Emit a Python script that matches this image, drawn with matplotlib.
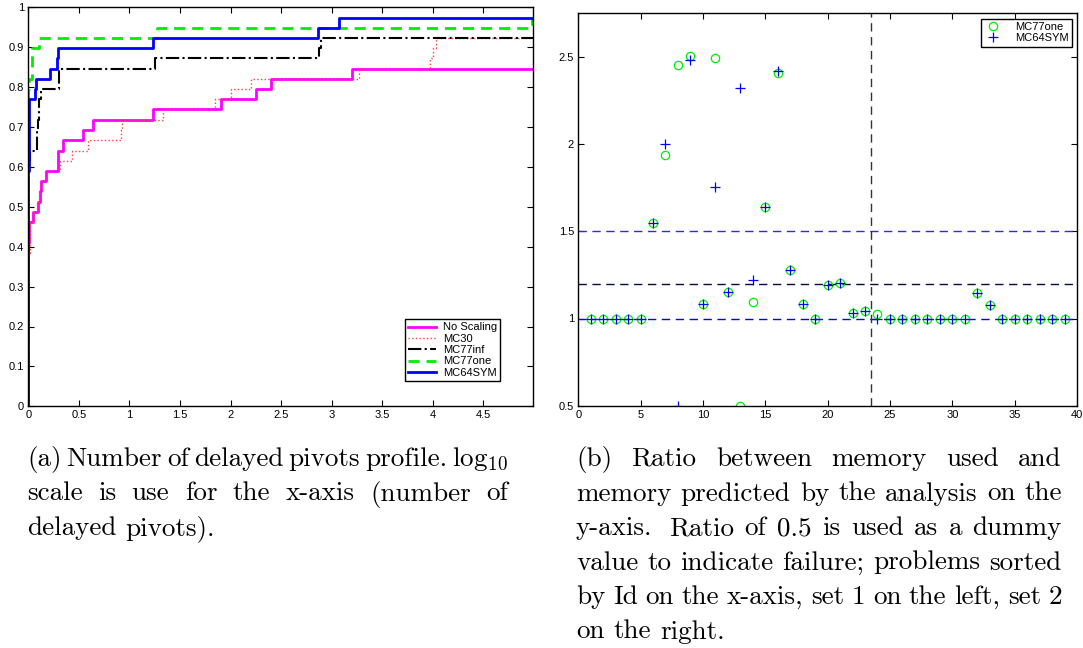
import matplotlib
matplotlib.use("Agg")
import matplotlib.pyplot as plt

# Performance profile: fraction of problems vs log10 of delayed pivots ratio
noscal_x = [0, 0, 0.01, 0.05, 0.10, 0.115, 0.13, 0.175, 0.29, 0.297, 0.346, 0.537, 0.636,
            1.235, 1.91, 2.25, 2.40, 3.205, 4.99]
noscal_y = [0, 0.41, 0.462, 0.487, 0.513, 0.539, 0.564, 0.590, 0.615, 0.641, 0.667, 0.692, 0.718,
            0.744, 0.769, 0.795, 0.821, 0.846, 0.846]
mc30_x = [0, 0, 0.012, 0.055, 0.09, 0.11, 0.135, 0.17, 0.313, 0.429, 0.593, 0.92, 0.925,
          1.33, 1.845, 2.0, 2.2, 3.27, 3.97, 4.0, 4.035, 4.99]
mc30_y = [0, 0.385, 0.462, 0.487, 0.513, 0.539, 0.564, 0.590, 0.615, 0.641, 0.667, 0.692, 0.718,
          0.744, 0.769, 0.795, 0.821, 0.846, 0.872, 0.897, 0.923, 0.923]
mc77inf_x = [0, 0, 0.015, 0.083, 0.1, 0.11, 0.122, 0.306, 1.25, 2.87, 2.89, 4.99]
mc77inf_y = [0, 0.615, 0.641, 0.692, 0.718, 0.769, 0.795, 0.846, 0.872, 0.897, 0.923, 0.923]
mc77one_x = [0, 0, 0.01, 0.035, 0.105, 1.27, 4.98, 4.99]
mc77one_y = [0, 0.795, 0.821, 0.897, 0.923, 0.949, 0.974, 0.974]
mc64sym_x = [0, 0, 0.003, 0.006, 0.01, 0.063, 0.076, 0.214, 0.28, 0.297, 1.235, 2.866, 3.073, 4.99]
mc64sym_y = [0, 0.59, 0.641, 0.718, 0.769, 0.795, 0.821, 0.846, 0.872, 0.897, 0.923, 0.949, 0.974, 0.974]

# Memory used / memory predicted, problems sorted by Id (0.5 = failure)
problem_id = list(range(1, 40))
ratio_mc77one = [1.0, 1.0, 1.0, 1.0, 1.0, 1.545, 1.94, 2.452, 2.506, 1.085,
                 2.493, 1.153, 0.5, 1.094, 1.64, 2.408, 1.279, 1.083, 1.0, 1.19,
                 1.203, 1.031, 1.044, 1.027, 1.0, 1.0, 1.0, 1.0, 1.0, 1.0,
                 1.0, 1.144, 1.079, 1.0, 1.0, 1.0, 1.0, 1.0, 1.0]
ratio_mc64sym = [1.0, 1.0, 1.0, 1.0, 1.0, 1.545, 2.0, 0.5, 2.481, 1.085,
                 1.755, 1.153, 2.319, 1.22, 1.64, 2.418, 1.279, 1.083, 1.0, 1.19,
                 1.203, 1.031, 1.044, 1.0, 1.0, 1.0, 1.0, 1.0, 1.0, 1.0,
                 1.0, 1.144, 1.079, 1.0, 1.0, 1.0, 1.0, 1.0, 1.0]
set_split = 23.5

caption_a = ["(a) Number of delayed pivots profile. log$_{10}$",
             "scale is use for the x-axis (number of",
             "delayed pivots)."]
caption_b = ["(b) Ratio between memory used and",
             "memory predicted by the analysis on the",
             "y-axis.  Ratio of 0.5 is used as a dummy",
             "value to indicate failure; problems sorted",
             "by Id on the x-axis, set 1 on the left, set 2",
             "on the right."]

W, H = 1083, 648
plt.rcParams["mathtext.fontset"] = "cm"
plt.rcParams["font.family"] = "Liberation Sans"

fig = plt.figure(figsize=(W / 100, H / 100), dpi=100)


def add_axes_px(left, top, right, bottom):
    return fig.add_axes([left / W, 1 - bottom / H, (right - left) / W, (bottom - top) / H])


def matlab_style(ax):
    ax.tick_params(direction="in", top=True, right=True, length=4, width=0.8,
                   labelsize=8, pad=3)
    for s in ax.spines.values():
        s.set_linewidth(1.0)


def caption(lines, x0, x1, y0, step, size=19.5):
    # justified paragraph, last line left aligned; a double space after a
    # full stop gets a wider gap
    renderer = fig.canvas.get_renderer()
    space = size * 100 / 72 * 0.333
    for i, line in enumerate(lines):
        words = line.split()
        extra = [1.6 if (w + "  ") in line else 1.0 for w in words[:-1]] + [0]
        y = 1 - (y0 + i * step) / H
        texts = [fig.text(0, y, w, fontsize=size, family="cmr10", va="baseline") for w in words]
        widths = [t.get_window_extent(renderer).width for t in texts]
        if i == len(lines) - 1:
            gap = space
        else:
            gap = (x1 - x0 - sum(widths)) / sum(extra)
        x = x0
        for t, w, e in zip(texts, widths, extra):
            t.set_x(x / W)
            x += w + gap * e


# left panel
ax1 = add_axes_px(28.3, 7.3, 533, 406.3)
matlab_style(ax1)
ax1.step(noscal_x, noscal_y, where="post", color="#ff00ff", lw=2, label="No Scaling")
ax1.step(mc30_x, mc30_y, where="post", color="#ff4040", lw=1, ls=":", label="MC30")
ax1.step(mc77inf_x, mc77inf_y, where="post", color="k", lw=1.5, ls="-.", label="MC77inf")
ax1.step(mc77one_x, mc77one_y, where="post", color="#00ee00", lw=2, ls=(0, (4, 2.5)), label="MC77one")
ax1.step(mc64sym_x, mc64sym_y, where="post", color="#0000ff", lw=2, label="MC64SYM")
ax1.set_xlim(0, 4.99)
ax1.set_ylim(0, 1)
ax1.set_xticks([0, 0.5, 1, 1.5, 2, 2.5, 3, 3.5, 4, 4.5])
ax1.set_xticklabels(["0", "0.5", "1", "1.5", "2", "2.5", "3", "3.5", "4", "4.5"])
ax1.set_yticks([i / 10 for i in range(11)])
ax1.set_yticklabels(["0", "0.1", "0.2", "0.3", "0.4", "0.5", "0.6", "0.7", "0.8", "0.9", "1"])
leg = ax1.legend(loc="lower right", bbox_to_anchor=(0.935, 0.063), borderaxespad=0,
                 fontsize=8, fancybox=False, edgecolor="k", framealpha=1,
                 handlelength=2.5, labelspacing=0.12, borderpad=0.3, handletextpad=0.6)
leg.get_frame().set_linewidth(1.0)

# right panel
ax2 = add_axes_px(578.2, 13.3, 1077, 405.7)
matlab_style(ax2)
ax2.axhline(1.0, color="#0000ff", lw=1.0, ls=(0, (6, 4)))
ax2.axhline(1.2, color="#0a0a40", lw=1.0, ls=(0, (6, 4)))
ax2.axhline(1.5, color="#2a2aff", lw=1.0, ls=(0, (6, 4)))
ax2.axvline(set_split, color="#333333", lw=1.0, ls=(0, (6, 4)))
ax2.plot(problem_id, ratio_mc77one, ls="none", marker="o", ms=6, mfc="none",
         mec="#00ee00", mew=0.9, label="MC77one")
ax2.plot(problem_id, ratio_mc64sym, ls="none", marker="+", ms=7, mec="#0000ff",
         mew=0.9, label="MC64SYM")
ax2.set_xlim(0, 40)
ax2.set_ylim(0.5, 2.75)
ax2.set_xticks(range(0, 41, 5))
ax2.set_yticks([0.5, 1, 1.5, 2, 2.5])
ax2.set_yticklabels(["0.5", "1", "1.5", "2", "2.5"])
leg2 = ax2.legend(loc="upper right", bbox_to_anchor=(0.99, 0.986), borderaxespad=0,
                  fontsize=8, fancybox=False, edgecolor="k", framealpha=1, numpoints=1,
                  handlelength=1.6, labelspacing=0.1, borderpad=0.3, handletextpad=1.2)
leg2.get_frame().set_linewidth(1.0)

caption(caption_a, 27, 508, 466, 34.5)
caption(caption_b, 576, 1062, 466, 34.5)

fig.savefig("out.png", dpi=100)
